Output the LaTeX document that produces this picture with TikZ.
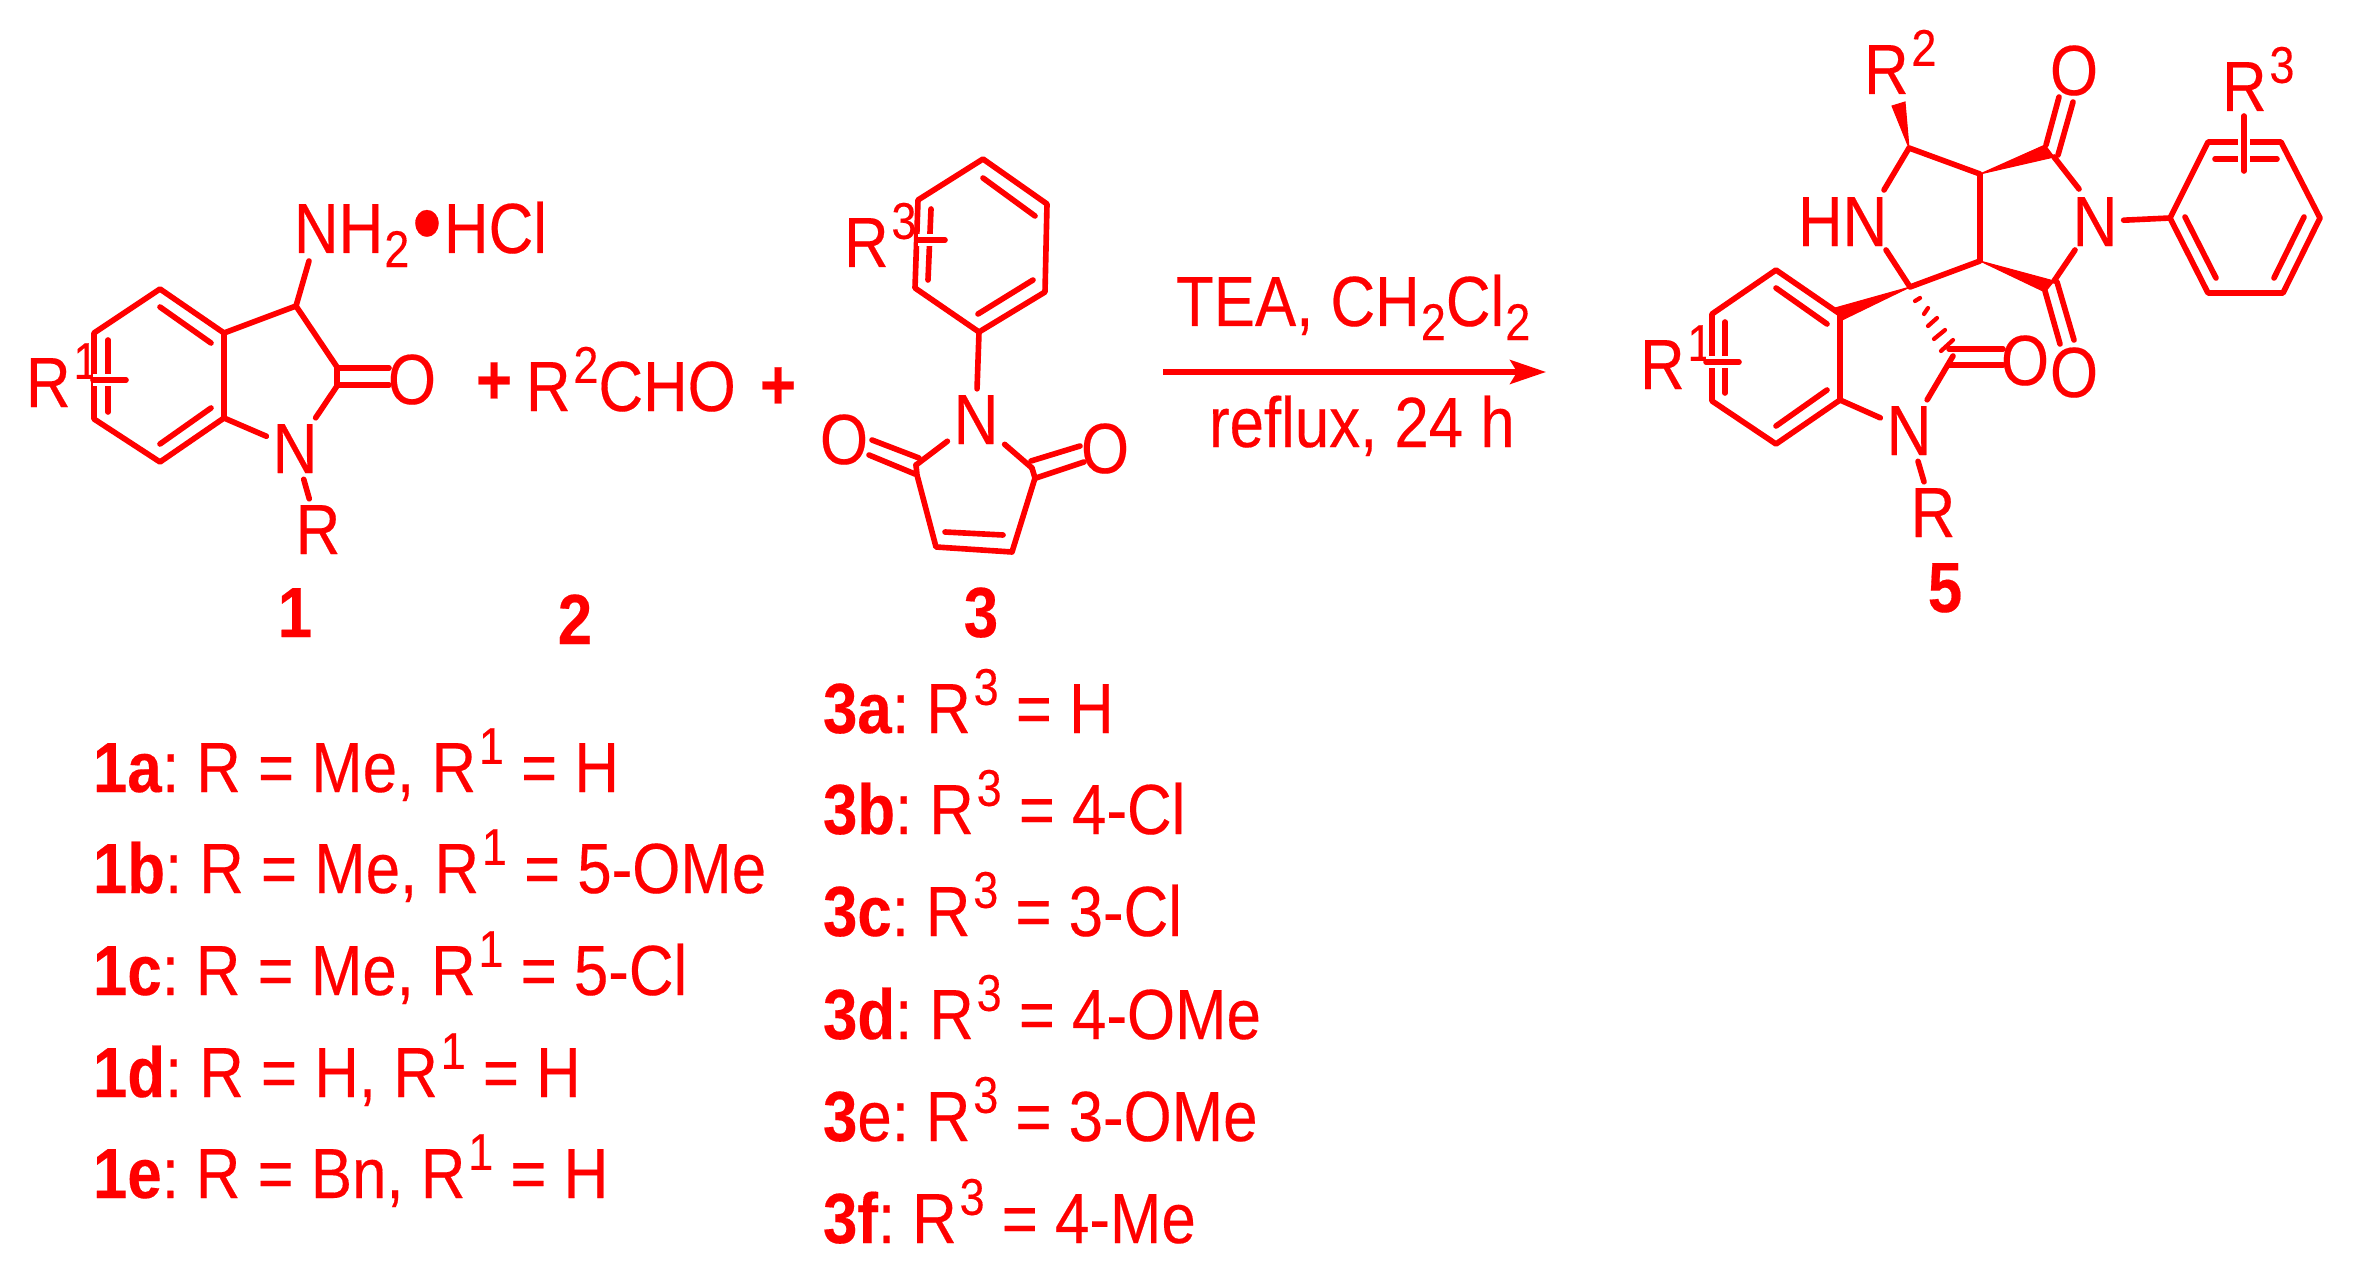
\documentclass[tikz,border=0pt]{standalone}
\usepackage{fontspec}
\setmainfont[FakeStretch=0.87,FakeBold=0.25]{Liberation Sans}
\usetikzlibrary{arrows.meta}
\newcommand{\supr}[1]{\kern.8pt\raisebox{8pt}{\fontsize{14.7}{15}\selectfont #1}}
\newcommand{\subr}[1]{\kern.3pt\raisebox{-4pt}{\fontsize{14.7}{15}\selectfont #1}}
\newcommand{\cmpd}[1]{#1:\hspace{-1.7pt} }
\tikzset{
  bond/.style={draw=red,line width=1.6pt,line cap=round,line join=round},
  cross/.style={bond,preaction={draw=white,line width=3.2pt}},
  wedge/.style={fill=red,draw=red,line width=.3pt},
  atom/.style={anchor=base,inner sep=1.8pt,outer sep=0pt,text=red},
  lbl/.style={anchor=base west,inner sep=0pt,outer sep=0pt,text=red}
}
\begin{document}
\begin{tikzpicture}[x=0.01cm,y=-0.01cm,every node/.style={font=\fontsize{20.2}{24}\selectfont}]
\useasboundingbox (0,0) rectangle (2354,1273);
% compound 1
\coordinate (a1) at (160,289);
\coordinate (a2) at (224,333);
\coordinate (a3) at (224,418);
\coordinate (a4) at (160,462);
\coordinate (a5) at (94,419);
\coordinate (a6) at (94,333);
\coordinate (a1i) at (160,307);
\coordinate (a2i) at (211,343);
\coordinate (a3i) at (211,408);
\coordinate (a4i) at (160,444);
\coordinate (a5i) at (108,412);
\coordinate (a6i) at (108,340);
\coordinate (ax1) at (93,380);
\coordinate (ax2) at (126,380);
\coordinate (ac3) at (296,306);
\coordinate (ac2t) at (337,367);
\coordinate (ac2b) at (337,386);
\coordinate (ao1) at (389,368);
\coordinate (ao2) at (389,385);
\coordinate (ao1s) at (337,368);
\coordinate (ao2s) at (337,385);
\coordinate (anh) at (309,261);
\node[lbl] (ar1) at (26,407) {R\supr{1}};
\node[lbl] (anh2) at (294,253) {NH\subr{2}};
\node[atom,font=\fontsize{28}{28}\selectfont] (adot) at (427,256) {•};
\node[lbl] (ahcl) at (444,253) {HCl};
\node[atom] (ao) at (412,404) {O};
\node[atom] (an) at (295,473) {N};
\node[atom] (ar) at (318,554) {R};
\node[atom,font=\fontsize{20.2}{24}\selectfont\bfseries] (lab1) at (295,637) {1};
\draw[bond] (a6) -- (a1) -- (a2) -- (a3) -- (a4) -- (a5) -- cycle;
\draw[bond] (a1i) -- (a2i);
\draw[bond] (a3i) -- (a4i);
\draw[bond] (a5i) -- (a6i);
\draw[cross] (ax1) -- (ax2);
\draw[bond] (a2) -- (ac3) -- (ac2t) -- (ac2b) -- (an);
\draw[bond] (a3) -- (an);
\draw[bond] (an) -- (ar);
\draw[bond] (ac3) -- (anh);
\draw[bond] (ao1s) -- (ao1);
\draw[bond] (ao2s) -- (ao2);
% plus signs and aldehyde
\node[atom,font=\fontsize{20.2}{24}\selectfont\bfseries] (pl1) at (494,404) {+};
\node[lbl] (ald) at (526,411) {R\supr{2}CHO};
\node[atom,font=\fontsize{20.2}{24}\selectfont\bfseries] (pl2) at (778,409) {+};
\node[atom,font=\fontsize{20.2}{24}\selectfont\bfseries] (lab2) at (575,644) {2};
% compound 3
\coordinate (b1) at (983,159);
\coordinate (b2) at (1047,204);
\coordinate (b3) at (1045,292);
\coordinate (b4) at (979,332);
\coordinate (b5) at (915,288);
\coordinate (b6) at (918,200);
\coordinate (b1i) at (983,178);
\coordinate (b2i) at (1035,216);
\coordinate (b3i) at (1033,280);
\coordinate (b4i) at (978,314);
\coordinate (b5i) at (928,280);
\coordinate (b6i) at (931,209);
\coordinate (bx1) at (918,240);
\coordinate (bx2) at (945,240);
\coordinate (bcl) at (916,465);
\coordinate (bcr) at (1032,468);
\coordinate (bcl2) at (917,475);
\coordinate (bcr2) at (1035,478);
\coordinate (bd1) at (936,547);
\coordinate (bd2) at (1012,552);
\coordinate (bd1i) at (945,532);
\coordinate (bd2i) at (1003,535);
\coordinate (bol1) at (872,440);
\coordinate (bol1s) at (919,458);
\coordinate (bol2) at (869,455);
\coordinate (bol2s) at (915,474);
\coordinate (bor1) at (1080,446);
\coordinate (bor1s) at (1031,461);
\coordinate (bor2) at (1084,462);
\coordinate (bor2s) at (1036,478);
\node[lbl] (br3) at (844,267) {R\supr{3}};
\node[atom] (bn) at (976,444) {N};
\node[atom] (bol) at (844,464) {O};
\node[atom] (bor) at (1105,473) {O};
\node[atom,font=\fontsize{20.2}{24}\selectfont\bfseries] (lab3) at (981,637) {3};
\draw[bond] (b6) -- (b1) -- (b2) -- (b3) -- (b4) -- (b5) -- cycle;
\draw[bond] (b1i) -- (b2i);
\draw[bond] (b3i) -- (b4i);
\draw[bond] (b5i) -- (b6i);
\draw[cross] (bx1) -- (bx2);
\draw[bond] (b4) -- (bn);
\draw[bond] (bcl) -- (bn);
\draw[bond] (bcr) -- (bn);
\draw[bond] (bcl) -- (bcl2) -- (bd1) -- (bd2) -- (bcr2) -- (bcr);
\draw[bond] (bd1i) -- (bd2i);
\draw[bond] (bol1s) -- (bol1);
\draw[bond] (bol2s) -- (bol2);
\draw[bond] (bor1s) -- (bor1);
\draw[bond] (bor2s) -- (bor2);
% reaction arrow
\coordinate (arl) at (1163,372);
\coordinate (arr) at (1546,372);
\draw[bond,line cap=butt,-{Stealth[length=10.2pt,width=6.8pt,inset=2pt]}] (arl) -- (arr);
\node[lbl] (cond1) at (1176,326) {TEA, CH\subr{2}Cl\subr{2}};
\node[lbl] (cond2) at (1209,447) {reflux, 24 h};
% compound 5
\coordinate (c1) at (1776,270);
\coordinate (c2) at (1840,314);
\coordinate (c3) at (1840,400);
\coordinate (c4) at (1776,444);
\coordinate (c5) at (1712,401);
\coordinate (c6) at (1712,314);
\coordinate (c1i) at (1776,288);
\coordinate (c2i) at (1827,324);
\coordinate (c3i) at (1827,390);
\coordinate (c4i) at (1776,426);
\coordinate (c5i) at (1725,393);
\coordinate (c6i) at (1725,322);
\coordinate (cx1) at (1706,362);
\coordinate (cx2) at (1739,362);
\coordinate (csp) at (1910,287);
\coordinate (chr) at (1909,148);
\coordinate (cmt) at (1980,174);
\coordinate (cmb) at (1980,261);
\coordinate (chn1) at (1884,190);
\coordinate (chn2) at (1886,250);
\coordinate (cct) at (2054,157);
\coordinate (ccb) at (2054,281);
\coordinate (cnt) at (2079,189);
\coordinate (cnb) at (2075,250);
\coordinate (cwt) at (2045,145);
\coordinate (cwb) at (2045,292);
\coordinate (cot1) at (2059,97);
\coordinate (cot1s) at (2046,145);
\coordinate (cot2) at (2073,102);
\coordinate (cot2s) at (2058,155);
\coordinate (cob1) at (2060,344);
\coordinate (cob1s) at (2045,291);
\coordinate (cob2) at (2074,340);
\coordinate (cob2s) at (2057,282);
\coordinate (cw1) at (1835,308);
\coordinate (cw2) at (1840,321);
\coordinate (cw3) at (1892,106);
\coordinate (cw4) at (1905,102);
\coordinate (cq1) at (1949,349);
\coordinate (cq1o) at (2003,349);
\coordinate (cq2) at (1949,365);
\coordinate (cq2o) at (2003,365);
\coordinate (cqc) at (1953,356);
\coordinate (ph1) at (2170,218);
\coordinate (ph2) at (2208,142);
\coordinate (ph3) at (2281,142);
\coordinate (ph4) at (2320,218);
\coordinate (ph5) at (2283,293);
\coordinate (ph6) at (2208,293);
\coordinate (ph1i) at (2185,217);
\coordinate (ph6i) at (2216,278);
\coordinate (ph4i) at (2304,217);
\coordinate (ph5i) at (2274,278);
\coordinate (ph2i) at (2215,159);
\coordinate (ph3i) at (2277,159);
\coordinate (phx1) at (2244,116);
\coordinate (phx2) at (2244,171);
\node[lbl] (cr1) at (1640,389) {R\supr{1}};
\node[lbl] (cr2) at (1864,94) {R\supr{2}};
\node[lbl] (cr3) at (2222,111) {R\supr{3}};
\node[lbl] (chn) at (1798,246) {HN};
\node[atom] (cnr) at (2095,246) {N};
\node[atom] (coa) at (2074,95) {O};
\node[atom] (cob) at (2074,397) {O};
\node[atom] (coq) at (2025,385) {O};
\node[atom] (cnq) at (1909,455) {N};
\node[atom] (crq) at (1933,537) {R};
\node[atom,font=\fontsize{20.2}{24}\selectfont\bfseries] (lab5) at (1945,612) {5};
\draw[bond] (c6) -- (c1) -- (c2) -- (c3) -- (c4) -- (c5) -- cycle;
\draw[bond] (c1i) -- (c2i);
\draw[bond] (c3i) -- (c4i);
\draw[bond] (c5i) -- (c6i);
\draw[cross] (cx1) -- (cx2);
\draw[bond] (chn1) -- (chr) -- (cmt) -- (cmb) -- (csp) -- (chn2);
\draw[bond] (cct) -- (cnt);
\draw[bond] (ccb) -- (cnb);
\fill[wedge] (cmt) -- (cwt) -- (cct) -- cycle;
\fill[wedge] (cmb) -- (cwb) -- (ccb) -- cycle;
\fill[wedge] (csp) -- (cw1) -- (cw2) -- cycle;
\fill[wedge] (chr) -- (cw3) -- (cw4) -- cycle;
\draw[bond] (cot1s) -- (cot1);
\draw[bond] (cot2s) -- (cot2);
\draw[bond] (cob1s) -- (cob1);
\draw[bond] (cob2s) -- (cob2);
\draw[bond] (c3) -- (cnq);
\draw[bond] (cqc) -- (cnq);
\draw[bond] (cnq) -- (crq);
\draw[bond] (cq1) -- (cq1o);
\draw[bond] (cq2) -- (cq2o);
\foreach \hx/\hy/\hu/\hv in {1915/301/1920/298,1924/314/1928/308,1928/326/1937/318,1934/339/1945/330,1941/351/1953/340}
  \draw[bond,line width=1.2pt] (\hx,\hy) -- (\hu,\hv);
\draw[bond] (ph1) -- (ph2) -- (ph3) -- (ph4) -- (ph5) -- (ph6) -- cycle;
\draw[bond] (ph1i) -- (ph6i);
\draw[bond] (ph4i) -- (ph5i);
\draw[bond] (ph2i) -- (ph3i);
\draw[cross] (phx1) -- (phx2);
\draw[bond] (cnr) -- (ph1);
% substituent lists
\node[lbl] (la) at (93,792) {\cmpd{\textbf{1a}}R = Me, R\supr{1} = H};
\node[lbl] (lb) at (93,893) {\cmpd{\textbf{1b}}R = Me, R\supr{1} = 5-OMe};
\node[lbl] (lc) at (93,995) {\cmpd{\textbf{1c}}R = Me, R\supr{1} = 5-Cl};
\node[lbl] (ld) at (93,1097) {\cmpd{\textbf{1d}}R = H, R\supr{1} = H};
\node[lbl] (le) at (93,1198) {\cmpd{\textbf{1e}}R = Bn, R\supr{1} = H};
\node[lbl] (ma) at (823,733) {\cmpd{\textbf{3a}}R\supr{3} = H};
\node[lbl] (mb) at (823,834) {\cmpd{\textbf{3b}}R\supr{3} = 4-Cl};
\node[lbl] (mc) at (823,936) {\cmpd{\textbf{3c}}R\supr{3} = 3-Cl};
\node[lbl] (md) at (823,1039) {\cmpd{\textbf{3d}}R\supr{3} = 4-OMe};
\node[lbl] (me) at (823,1141) {\cmpd{\textbf{3}e}R\supr{3} = 3-OMe};
\node[lbl] (mf) at (823,1243) {\cmpd{\textbf{3f}}R\supr{3} = 4-Me};
\end{tikzpicture}
\end{document}
